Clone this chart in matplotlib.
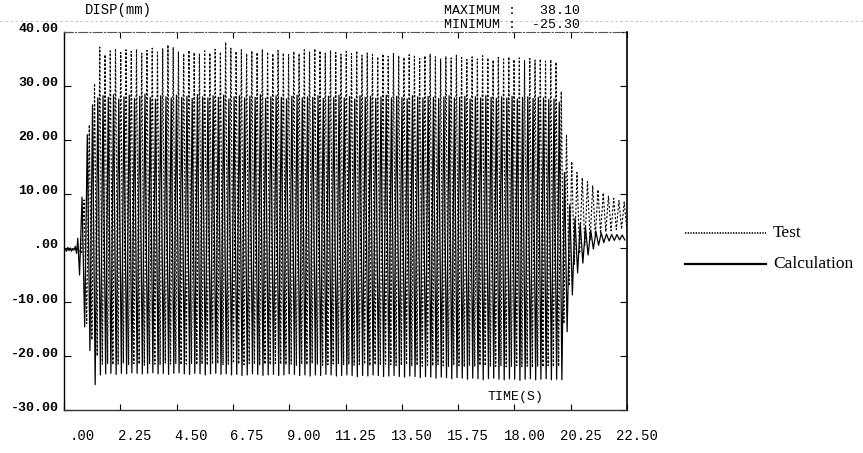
import numpy as np
import matplotlib
matplotlib.use("Agg")
import matplotlib.pyplot as plt
import matplotlib.transforms as mtransforms
from matplotlib.lines import Line2D

# ---- data ----
period = 0.2096          # s, one oscillation cycle

# calculation (solid): quiet start, then one peak/trough per cycle
calc_pre_t = [0.0, 0.05, 0.1, 0.15, 0.2, 0.25, 0.3, 0.35, 0.4, 0.45, 0.5, 0.55, 0.62]
calc_pre_y = [-0.4, -0.2, -0.6, 0.1, -0.5, 0.0, -0.6, -0.1, -0.4, 0.3, -1.0, 1.8, -5.0]
calc_first_peak = 0.72
calc_peaks = [
    9.4, 21.0, 26.5, 27.8, 28.2, 27.9, 28.4, 27.6, 28.0, 28.3,
    27.7, 28.1, 28.5, 27.9, 27.6, 28.2, 28.0, 27.8, 28.3, 27.9,
    28.1, 27.7, 28.4, 28.0, 27.8, 28.2, 27.9, 28.3, 27.6, 28.0,
    28.2, 27.8, 28.1, 27.9, 28.4, 27.7, 28.0, 28.2, 27.9, 27.6,
    28.1, 28.3, 27.8, 28.0, 27.9, 28.2, 27.7, 28.1, 27.9, 28.3,
    27.8, 28.0, 27.6, 28.2, 27.9, 28.1, 27.7, 28.0, 28.3, 27.8,
    28.1, 27.9, 27.6, 28.2, 28.0, 27.8, 28.1, 27.9, 27.7, 28.0,
    28.2, 27.8, 27.9, 28.1, 27.6, 28.0, 27.8, 28.2, 27.9, 27.7,
    28.0, 27.8, 28.1, 27.6, 27.9, 28.0, 27.7, 27.9, 27.8, 27.5,
    27.6, 27.0, 14.0, 8.0, 5.5, 4.5, 3.8, 3.3, 3.0, 2.8,
    2.6, 2.5, 2.5, 2.4,
]
calc_troughs = [
    -14.6, -19.0, -25.3, -23.5, -23.3, -23.2, -23.4, -23.2, -23.3, -23.1,
    -23.2, -23.3, -23.2, -23.1, -23.3, -23.2, -23.4, -23.2, -23.1, -23.3,
    -23.4, -23.2, -23.3, -23.5, -23.3, -23.2, -23.4, -23.3, -23.5, -23.4,
    -23.6, -23.5, -23.3, -23.4, -23.6, -23.5, -23.4, -23.6, -23.5, -23.3,
    -23.4, -23.6, -23.5, -23.7, -23.5, -23.6, -23.4, -23.5, -23.7, -23.6,
    -23.5, -23.6, -23.8, -23.6, -23.7, -23.5, -23.6, -23.8, -23.7, -23.6,
    -23.8, -23.9, -23.7, -23.8, -24.0, -23.8, -23.9, -24.1, -23.9, -24.0,
    -24.2, -24.0, -24.1, -24.3, -24.1, -24.2, -24.4, -24.2, -24.1, -24.3,
    -24.4, -24.2, -24.3, -24.5, -24.3, -24.2, -24.4, -24.3, -24.2, -24.4,
    -24.3, -24.4, -15.5, -8.7, -4.6, -2.8, -1.3, -0.2, 0.5, 1.0,
    1.3, 1.4, 1.5, 1.5,
]

# test (dotted)
test_pre_t = [0.0, 0.3, 0.6, 0.7]
test_pre_y = [-0.3, -0.2, -0.3, -1.0]
test_first_peak = 0.80
test_peaks = [
    8.9, 22.8, 30.5, 37.2, 35.8, 36.5, 36.9, 36.2, 36.7, 36.4,
    36.8, 36.1, 36.6, 37.0, 36.3, 36.9, 37.6, 37.1, 36.4, 36.0,
    36.6, 36.2, 35.9, 36.5, 36.1, 36.8, 36.3, 38.1, 37.0, 36.4,
    36.7, 36.0, 36.5, 36.2, 36.8, 36.3, 36.0, 36.6, 36.1, 35.8,
    36.4, 36.0, 36.7, 36.3, 36.9, 36.5, 36.1, 36.6, 36.2, 35.9,
    36.4, 36.0, 36.5, 35.7, 36.1, 35.8, 35.4, 35.9, 35.5, 36.0,
    35.6, 35.3, 35.8, 35.5, 35.1, 35.6, 35.9, 35.4, 35.0, 35.5,
    35.2, 35.7, 35.3, 34.9, 35.4, 35.0, 35.6, 35.2, 34.8, 35.3,
    35.0, 35.4, 34.9, 35.2, 34.7, 35.1, 34.8, 35.0, 34.6, 34.9,
    34.4, 29.0, 21.0, 16.0, 14.0, 13.0, 12.3, 11.5, 10.8, 10.2,
    9.6, 9.2, 8.8, 8.5,
]
test_troughs = [
    -14.0, -17.0, -20.0, -21.5, -21.4, -21.6, -21.5, -21.3, -21.6, -21.4,
    -21.5, -21.7, -21.4, -21.5, -21.6, -21.3, -21.5, -21.4, -21.6, -21.5,
    -21.4, -21.6, -21.5, -21.7, -21.5, -21.4, -21.6, -21.5, -21.3, -21.5,
    -21.6, -21.4, -21.5, -21.7, -21.5, -21.6, -21.4, -21.5, -21.6, -21.5,
    -21.7, -21.5, -21.6, -21.4, -21.5, -21.7, -21.6, -21.5, -21.4, -21.6,
    -21.5, -21.7, -21.6, -21.5, -21.8, -21.6, -21.7, -21.5, -21.6, -21.8,
    -21.7, -21.6, -21.8, -21.7, -21.9, -21.7, -21.8, -21.6, -21.8, -21.9,
    -21.7, -21.8, -22.0, -21.8, -21.9, -21.7, -21.8, -22.0, -21.9, -21.8,
    -22.0, -21.9, -21.8, -22.0, -21.9, -22.1, -21.9, -22.0, -21.8, -22.0,
    -21.9, -14.0, -7.0, -3.0, -1.0, 0.5, 1.5, 2.2, 2.7, 3.0,
    3.2, 3.4, 3.5, 3.6,
]

x_ticks = [0, 2.25, 4.5, 6.75, 9.0, 11.25, 13.5, 15.75, 18.0, 20.25, 22.5]
x_labels = [".00", "2.25", "4.50", "6.75", "9.00", "11.25", "13.50", "15.75",
            "18.00", "20.25", "22.50"]
y_ticks = [40, 30, 20, 10, 0, -10, -20, -30]
y_labels = ["40.00", "30.00", "20.00", "10.00", ".00", "-10.00", "-20.00", "-30.00"]


def build_series(pre_t, pre_y, first_peak, peaks, troughs):
    # alternate peak, trough, peak, ... half a period apart
    t = list(pre_t)
    y = list(pre_y)
    for i in range(len(peaks)):
        t.append(first_peak + i * period)
        y.append(peaks[i])
        t.append(first_peak + (i + 0.5) * period)
        y.append(troughs[i])
    return t, y


calc_t, calc_y = build_series(calc_pre_t, calc_pre_y, calc_first_peak, calc_peaks, calc_troughs)
test_t, test_y = build_series(test_pre_t, test_pre_y, test_first_peak, test_peaks, test_troughs)

mono = "Liberation Mono"
serif = "Liberation Serif"

fig = plt.figure(figsize=(8.63, 4.53), dpi=100)
ax = fig.add_axes([0.0742, 0.0949, 0.6523, 0.8345])

ax.plot(test_t, test_y, color="black", lw=0.8, linestyle=(0, (2.0, 1.6)))
ax.plot(calc_t, calc_y, color="black", lw=0.9)

ax.set_xlim(0, 22.5)
ax.set_ylim(-30, 40)

ax.set_xticks(x_ticks)
ax.set_xticklabels(x_labels, fontfamily=mono, fontsize=10, ha="right")
ax.set_yticks(y_ticks)
ax.set_yticklabels(y_labels, fontfamily=mono, fontsize=9.5, fontweight="bold")
ax.tick_params(axis="x", direction="in", length=4, top=True, pad=14, width=0.8)
ax.tick_params(axis="y", direction="in", length=5, right=True, pad=4, width=0.8)

# shift labels like the original printout
xoff = mtransforms.ScaledTranslation(31 / 100, 0, fig.dpi_scale_trans)
for lab in ax.get_xticklabels():
    lab.set_transform(lab.get_transform() + xoff)
yoff = mtransforms.ScaledTranslation(0, 4 / 100, fig.dpi_scale_trans)
for lab in ax.get_yticklabels():
    lab.set_transform(lab.get_transform() + yoff)

ax.spines["top"].set_linestyle((0, (8, 2, 1, 2)))
ax.spines["top"].set_color("#555555")
ax.spines["top"].set_linewidth(0.8)
ax.spines["bottom"].set_color("#333333")
ax.spines["bottom"].set_linewidth(1.0)
ax.spines["left"].set_linewidth(1.0)
ax.spines["right"].set_linewidth(1.2)

fig.text(85 / 863, 1 - 10 / 453, "DISP(mm)", fontfamily=mono, fontsize=10,
         va="center", ha="left")
fig.text(444 / 863, 1 - 11 / 453, "MAXIMUM :   38.10", fontfamily=mono,
         fontsize=9.5, va="center", ha="left")
fig.text(444 / 863, 1 - 25 / 453, "MINIMUM :  -25.30", fontfamily=mono,
         fontsize=9.5, va="center", ha="left")
fig.text(487 / 863, 1 - 397 / 453, "TIME(S)", fontfamily=mono, fontsize=9.5,
         va="center", ha="left")

# faint scan line near the top
fig.add_artist(Line2D([0, 1], [1 - 21 / 453, 1 - 21 / 453], color="#bbbbbb",
                      lw=0.6, linestyle=(0, (3, 3)), transform=fig.transFigure))

# legend drawn by hand, as in the original
fig.add_artist(Line2D([685 / 863, 766 / 863], [1 - 233 / 453, 1 - 233 / 453],
                      color="black", lw=1.2, linestyle=(0, (0.8, 0.8)),
                      transform=fig.transFigure))
fig.add_artist(Line2D([685 / 863, 766 / 863], [1 - 264 / 453, 1 - 264 / 453],
                      color="black", lw=1.6, transform=fig.transFigure))
fig.text(773 / 863, 1 - 233 / 453, "Test", fontfamily=serif, fontsize=12.5,
         va="center", ha="left")
fig.text(773 / 863, 1 - 264 / 453, "Calculation", fontfamily=serif,
         fontsize=12.5, va="center", ha="left")

fig.savefig("out.png", dpi=100)
